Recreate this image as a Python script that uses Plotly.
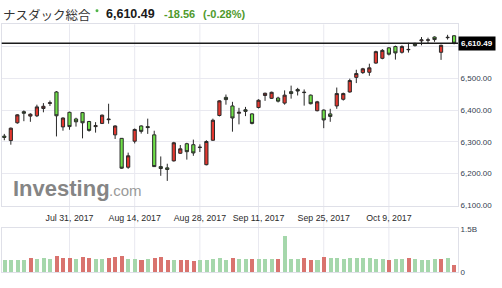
import plotly.graph_objects as go

W, H = 502, 288

dates = ["2017-07-17","2017-07-18","2017-07-19","2017-07-20","2017-07-21",
         "2017-07-24","2017-07-25","2017-07-26","2017-07-27","2017-07-28",
         "2017-07-31","2017-08-01","2017-08-02","2017-08-03","2017-08-04",
         "2017-08-07","2017-08-08","2017-08-09","2017-08-10","2017-08-11",
         "2017-08-14","2017-08-15","2017-08-16","2017-08-17","2017-08-18",
         "2017-08-21","2017-08-22","2017-08-23","2017-08-24","2017-08-25",
         "2017-08-28","2017-08-29","2017-08-30","2017-08-31","2017-09-01",
         "2017-09-05","2017-09-06","2017-09-07","2017-09-08",
         "2017-09-11","2017-09-12","2017-09-13","2017-09-14","2017-09-15",
         "2017-09-18","2017-09-19","2017-09-20","2017-09-21","2017-09-22",
         "2017-09-25","2017-09-26","2017-09-27","2017-09-28","2017-09-29",
         "2017-10-02","2017-10-03","2017-10-04","2017-10-05","2017-10-06",
         "2017-10-09","2017-10-10","2017-10-11","2017-10-12","2017-10-13",
         "2017-10-16","2017-10-17","2017-10-18","2017-10-19","2017-10-20",
         "2017-10-23"]

opens = [6318, 6304, 6360, 6395, 6381, 6382, 6405, 6421, 6457, 6347,
         6393, 6372, 6392, 6364, 6348, 6358, 6372, 6322, 6311, 6220,
         6302, 6350, 6348, 6322, 6222, 6218, 6240, 6264, 6294, 6291,
         6282, 6228, 6305, 6383, 6440, 6413, 6390, 6401, 6388,
         6408, 6446, 6437, 6438, 6422, 6458, 6465, 6455, 6447, 6398,
         6400, 6388, 6413, 6434, 6457, 6503, 6518, 6519, 6548, 6563,
         6596, 6600, 6582, 6590, 6610, 6618, 6620, 6630, 6582, 6628,
         6634]
highs = [6325, 6345, 6387, 6399, 6390, 6417, 6422, 6430, 6460, 6377,
         6395, 6376, 6394, 6366, 6362, 6386, 6420, 6352, 6312, 6266,
         6342, 6352, 6373, 6335, 6254, 6231, 6300, 6290, 6297, 6307,
         6292, 6305, 6373, 6431, 6449, 6426, 6407, 6410, 6390,
         6434, 6455, 6458, 6442, 6462, 6477, 6470, 6465, 6449, 6429,
         6402, 6404, 6471, 6455, 6499, 6527, 6533, 6546, 6587, 6592,
         6598, 6603, 6604, 6612, 6612, 6630, 6628, 6632, 6606, 6637,
         6636]
lows = [6305, 6291, 6357, 6365, 6363, 6378, 6393, 6413, 6317, 6335,
        6338, 6348, 6311, 6332, 6329, 6356, 6357, 6309, 6215, 6215,
        6295, 6326, 6325, 6221, 6193, 6177, 6238, 6262, 6244, 6256,
        6268, 6226, 6303, 6380, 6417, 6332, 6355, 6381, 6355,
        6405, 6429, 6435, 6424, 6417, 6436, 6446, 6414, 6418, 6396,
        6343, 6363, 6404, 6430, 6455, 6485, 6514, 6508, 6546, 6560,
        6572, 6559, 6578, 6581, 6600, 6604, 6611, 6615, 6558, 6622,
        6607]
closes = [6314, 6343, 6385, 6390, 6387, 6410, 6412, 6423, 6382, 6375,
          6348, 6363, 6360, 6336, 6351, 6384, 6370, 6350, 6217, 6256,
          6339, 6333, 6345, 6222, 6216, 6213, 6297, 6278, 6269, 6265,
          6283, 6301, 6368, 6429, 6433, 6375, 6393, 6396, 6358,
          6431, 6453, 6456, 6428, 6447, 6452, 6460, 6456, 6420, 6426,
          6369, 6380, 6452, 6452, 6493, 6515, 6530, 6533, 6584, 6588,
          6576, 6580, 6600, 6591, 6603, 6621, 6621, 6622, 6604, 6629,
          6610.49]
volumes_b = [0.40, 0.41, 0.42, 0.42, 0.50, 0.44, 0.49, 0.45, 0.57, 0.50,
             0.50, 0.46, 0.52, 0.50, 0.46, 0.44, 0.50, 0.52, 0.55, 0.45,
             0.45, 0.40, 0.45, 0.50, 0.51, 0.40, 0.42, 0.40, 0.40, 0.38,
             0.42, 0.41, 0.44, 0.50, 0.42, 0.48, 0.45, 0.45, 0.45,
             0.45, 0.44, 0.46, 0.46, 1.23, 0.46, 0.44, 0.50, 0.43, 0.43,
             0.53, 0.49, 0.50, 0.44, 0.50, 0.47, 0.47, 0.47, 0.46, 0.44,
             0.40, 0.44, 0.44, 0.50, 0.44, 0.40, 0.42, 0.44, 0.46, 0.48,
             0.24]

tick_dates = ["2017-07-31", "2017-08-14", "2017-08-28", "2017-09-11", "2017-09-25", "2017-10-09"]
tick_labels = ["Jul 31, 2017", "Aug 14, 2017", "Aug 28, 2017", "Sep 11, 2017", "Sep 25, 2017", "Oct 9, 2017"]
price_ticks = [6100, 6200, 6300, 6400, 6500, 6600]
price_tick_labels = ["6,100.00", "6,200.00", "6,300.00", "6,400.00", "6,500.00", ""]
last_price = 6610.49
title_name = "ナスダック総合"
title_price = "6,610.49"
title_change = "-18.56"
title_pct = "(-0.28%)"

def px(x):
    return x / W

def py(y):
    return 1 - y / H

vol_colors = []
for i, c in enumerate(closes):
    up = True if i == 0 else c >= closes[i - 1]
    vol_colors.append("#a5d7ab" if up else "#d9736e")

fig = go.Figure()
fig.add_trace(go.Candlestick(
    x=dates, open=opens, high=highs, low=lows, close=closes,
    increasing=dict(fillcolor="#e3372f", line=dict(color="#2a2a2a", width=1)),
    decreasing=dict(fillcolor="#6fe048", line=dict(color="#2a2a2a", width=1)),
    whiskerwidth=0, xaxis="x", yaxis="y", showlegend=False, hoverinfo="skip"))
fig.add_trace(go.Bar(
    x=dates, y=volumes_b, marker=dict(color=vol_colors, line=dict(width=0)),
    width=0.62, xaxis="x2", yaxis="y2", showlegend=False, hoverinfo="skip"))

xdom = [px(1.7), px(458)]
grid_c = "#e9e9f0"
line_c = "#dfe0e8"
tick_font = dict(family="Liberation Sans, Arial", size=8, color="#34404f")

shapes = []
for d in tick_dates:
    shapes.append(dict(type="line", xref="x", yref="paper", x0=d, x1=d,
                       y0=py(277), y1=py(21), line=dict(color=grid_c, width=1), layer="below"))
shapes.append(dict(type="line", xref="paper", yref="y", x0=px(1.7), x1=px(458),
                   y0=last_price, y1=last_price, line=dict(color="#1b1b1b", width=1.5)))
shapes.append(dict(type="circle", xref="paper", yref="paper", x0=px(95.5), x1=px(98.5),
                   y0=py(8.5), y1=py(5.5), fillcolor="#4fb548", line=dict(width=0)))

ann = []
def A(text, x, y, size, color, family="Liberation Sans, Arial", bold=False, **kw):
    t = "<b>%s</b>" % text if bold else text
    d = dict(text=t, x=px(x), y=py(y), xref="paper", yref="paper", xanchor="left",
             yanchor="middle", showarrow=False, font=dict(family=family, size=size, color=color))
    d.update(kw)
    ann.append(d)

A(title_name, 1, 11, 12.5, "#333333", family="Noto Sans CJK JP")
A(title_price, 104, 10.5, 12.5, "#1a1a1a", bold=True)
A(title_change, 162, 10.5, 11, "#4f9a2c", bold=True)
A(title_pct, 201, 10.5, 11, "#4f9a2c", bold=True)
A("Investing", 11, 190, 22, "#858585", bold=True)
A(".com", 107, 192.5, 15, "#9a9a9a")
ann.append(dict(text="<b>6,610.49</b>", x=px(458), y=last_price, xref="paper", yref="y",
                xanchor="left", yanchor="middle", showarrow=False, bgcolor="#000000",
                borderpad=2, font=dict(family="Liberation Sans, Arial", size=8, color="#ffffff")))

fig.update_layout(
    width=W, height=H, margin=dict(l=0, r=0, t=0, b=0),
    paper_bgcolor="white", plot_bgcolor="rgba(0,0,0,0)",
    showlegend=False, bargap=0,
    xaxis=dict(domain=xdom, type="category", range=[-0.4, 69.6], anchor="y",
               rangeslider=dict(visible=False), showgrid=False,
               tickmode="array", tickvals=tick_dates, ticktext=tick_labels,
               ticks="outside", ticklen=4, tickcolor="rgba(0,0,0,0)",
               tickfont=dict(family="Liberation Sans, Arial", size=8.8, color="#2b2b2b"),
               showline=True, linecolor=line_c, linewidth=1, mirror=True, fixedrange=True),
    yaxis=dict(domain=[py(208), py(21)], range=[6099.5, 6670], side="right", anchor="x",
               tickmode="array", tickvals=price_ticks, ticktext=price_tick_labels,
               tickfont=tick_font, showgrid=True, gridcolor=grid_c, zeroline=False,
               showline=True, linecolor=line_c, linewidth=1, mirror=True, ticks=""),
    xaxis2=dict(domain=xdom, type="category", range=[-0.4, 69.6], anchor="y2", matches="x",
                showticklabels=False, showgrid=False, showline=True, linecolor=line_c,
                mirror=True, ticks=""),
    yaxis2=dict(domain=[py(277), py(231.5)], range=[0, 1.52], side="right", anchor="x2",
                tickmode="array", tickvals=[0, 1.5], ticktext=["0", "1.5B"],
                tickfont=tick_font, showgrid=False, zeroline=False,
                showline=True, linecolor=line_c, mirror=True, ticks=""),
    shapes=shapes, annotations=ann,
)

fig.write_html("out.html")
